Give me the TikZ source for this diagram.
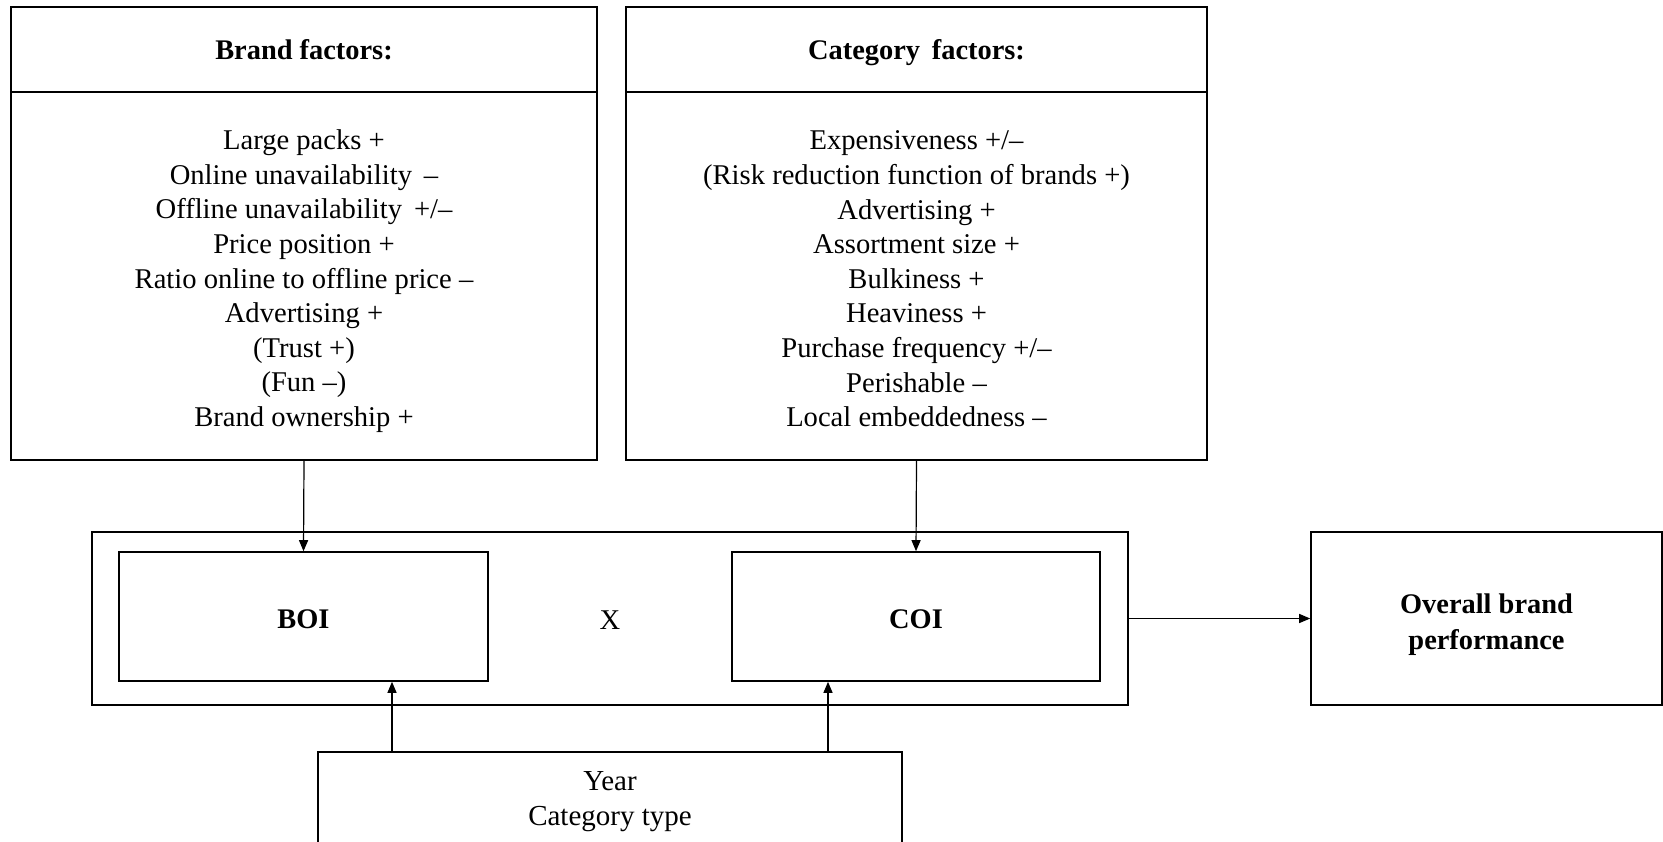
\documentclass[tikz,border=0pt]{standalone}
\usepackage{fontspec}
\setmainfont{Liberation Serif}
\usetikzlibrary{fit,arrows.meta}
\tikzset{
  box/.style={draw, line width=0.8pt, inner sep=0pt},
  txt/.style={align=center, inner sep=0pt},
  arr/.style={draw, line width=0.6pt, -{Triangle[length=5.5pt,width=4.5pt]}},
  itemfont/.style={font=\fontsize{14.3}{17.3}\selectfont},
  headfont/.style={font=\bfseries\fontsize{14.2}{17.3}\selectfont},
}
\begin{document}
\begin{tikzpicture}[x=0.5pt,y=-0.5pt]
\useasboundingbox (0,0) rectangle (1663,841);
\clip (0,0) rectangle (1663,841);
% brand factors
\node[box, fit={(11,7) (597,92)}] (bh) {};
\node[txt, headfont] (bht) at (bh.center) {Brand factors:};
\node[box, fit={(11,92) (597,460)}] (bb) {};
\node[txt, itemfont] (bbt) at ([yshift=-2.6pt]bb.center) {Large packs +\\Online unavailability \,--\\Offline unavailability \,+/--\\Price position +\\Ratio online to offline price --\\Advertising +\\(Trust +)\\(Fun --)\\Brand ownership +};
% category factors
\node[box, fit={(626,7) (1207,92)}] (ch) {};
\node[txt, headfont] (cht) at ([yshift=-1.6pt]ch.center) {Category\, factors:};
\node[box, fit={(626,92) (1207,460)}] (cb) {};
\node[txt, itemfont] (cbt) at ([yshift=-1.5pt]cb.center) {Expensiveness +/--\\(Risk reduction function of brands +)\\Advertising +\\Assortment size +\\Bulkiness +\\Heaviness +\\Purchase frequency +/--\\Perishable --\\Local embeddedness --};
% middle
\node[box, fit={(92,532) (1128,705)}] (outer) {};
\node[box, fit={(119,552) (488,681)}] (boi) {};
\node[txt, headfont] (boit) at ([yshift=-1.5pt]boi.center) {BOI};
\node[box, fit={(732,552) (1100,681)}] (coi) {};
\node[txt, headfont] (coit) at ([yshift=-1.5pt]coi.center) {COI};
\node[txt, itemfont] (x) at (610,620) {X};
\node[box, fit={(1311,532) (1662,705)}] (ov) {};
\node[txt, font=\bfseries\fontsize{14.2}{18}\selectfont] (ovt) at ([yshift=-3pt]ov.center) {Overall brand\\performance};
\node[box, fit={(318,752) (902,860)}] (year) {};
\node[txt, font=\fontsize{14.5}{17.5}\selectfont] (yt) at (610,802) {Year\\Category type};
% connectors
\draw[arr] (bb.south) -- (boi.north);
\draw[arr] (cb.south) -- (coi.north);
\draw[arr] (outer.east) -- (ov.west);
\draw[arr] (year.north -| 392,0) -- (boi.south -| 392,0);
\draw[arr] (year.north -| 828,0) -- (coi.south -| 828,0);
\end{tikzpicture}
\end{document}
